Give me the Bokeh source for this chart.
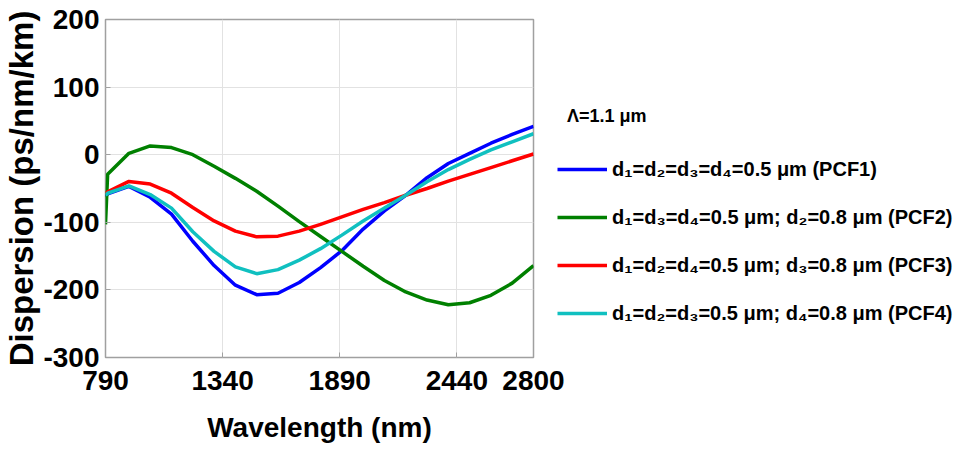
from bokeh.plotting import figure
from bokeh.models import Range1d, FixedTicker, Legend, LegendItem
from bokeh.embed import file_html
from bokeh.resources import INLINE

# ---- data ----
wavelength_nm = [790, 800, 900, 1000, 1100, 1200, 1300, 1400, 1500, 1600, 1700,
                 1800, 1900, 2000, 2100, 2200, 2300, 2400, 2500, 2600, 2700, 2800]
pcf1 = [-62, -58, -47, -63, -88, -128, -164, -193, -207, -205, -189,
        -167, -142, -110, -83, -60, -34, -13, 2, 17, 30, 42]
pcf2 = [-103, -29, 2, 13, 10.5, 0, -17, -35, -54, -76, -99,
        -121, -143, -165, -186, -203, -215, -222, -219, -208, -190, -164]
pcf3 = [-57, -55, -39.5, -43.5, -57, -78, -98, -113, -121.5, -120.5, -113,
        -103, -92, -81, -71, -60, -50, -39, -29, -19, -9, 1]
pcf4 = [-60, -57, -46, -59, -79, -114, -143, -166, -176, -170, -156,
        -139, -119, -98, -79, -60, -40, -22, -7, 7, 19, 31]

series_values = [pcf1, pcf2, pcf3, pcf4]
series_labels = [
    "d\u2081=d\u2082=d\u2083=d\u2084=0.5 \u03bcm (PCF1)",
    "d\u2081=d\u2083=d\u2084=0.5 \u03bcm; d\u2082=0.8 \u03bcm (PCF2)",
    "d\u2081=d\u2082=d\u2084=0.5 \u03bcm; d\u2083=0.8 \u03bcm (PCF3)",
    "d\u2081=d\u2082=d\u2083=0.5 \u03bcm; d\u2084=0.8 \u03bcm (PCF4)",
]
series_colors = ["#0000ff", "#008000", "#ff0000", "#10c0c0"]
legend_title = "\u00a0\u00a0\u039b=1.1 \u03bcm"

x_ticks = [790, 1340, 1890, 2440, 2800]
y_ticks = [-300, -200, -100, 0, 100, 200]
y_tick_labels = ["-300", "-200", "-100", "0", "100", "200"]
x_label = "Wavelength (nm)"
y_label = "Dispersion (ps/nm/km)"

SANS = "Liberation Sans"

p = figure(frame_width=428, frame_height=338, output_backend="svg",
           toolbar_location=None,
           x_range=Range1d(790, 2800), y_range=Range1d(-300, 200),
           min_border_left=105, min_border_right=0,
           min_border_top=19, min_border_bottom=95)

p.background_fill_color = "white"
p.border_fill_color = "white"
p.outline_line_color = "#a0a0a0"
p.outline_line_width = 1.5

p.xaxis.ticker = FixedTicker(ticks=x_ticks)
p.yaxis.ticker = FixedTicker(ticks=y_ticks)
p.yaxis.major_label_overrides = {t: s for t, s in zip(y_ticks, y_tick_labels)}
p.xaxis.major_label_overrides = {t: str(t) for t in x_ticks}
p.grid.grid_line_color = "#e2e2e2"
p.grid.grid_line_width = 1

for ax in (p.xaxis[0], p.yaxis[0]):
    ax.axis_line_color = None
    ax.major_tick_in = 5
    ax.major_tick_out = 0
    ax.major_tick_line_color = "#a0a0a0"
    ax.minor_tick_line_color = None
    ax.major_label_text_font = SANS
    ax.major_label_text_font_style = "bold"
    ax.major_label_text_font_size = "28px"
    ax.major_label_text_color = "black"
    ax.axis_label_text_font = SANS
    ax.axis_label_text_font_style = "bold"
    ax.axis_label_text_color = "black"

p.xaxis.major_label_standoff = 13
p.yaxis.major_label_standoff = 6
p.xaxis.axis_label = x_label
p.xaxis.axis_label_text_font_size = "28px"
p.xaxis.axis_label_standoff = 19
p.yaxis.axis_label = y_label
p.yaxis.axis_label_text_font_size = "33px"
p.yaxis.axis_label_standoff = 0

items = []
for vals, lab, col in zip(series_values, series_labels, series_colors):
    r = p.line(wavelength_nm, vals, line_color=col, line_width=3.5)
    items.append(LegendItem(label=lab, renderers=[r]))

legend = Legend(items=items, location=(24, 29), padding=0, margin=0,
                spacing=18, glyph_width=50, glyph_height=30, label_height=30,
                label_standoff=5, label_text_font=SANS,
                label_text_font_style="bold", label_text_font_size="20px",
                label_text_color="black",
                title=legend_title, title_text_font=SANS,
                title_text_font_style="bold", title_text_font_size="18px",
                title_text_color="black", title_standoff=27,
                border_line_color=None, background_fill_alpha=0)
p.add_layout(legend, "right")

open("out.html", "w").write(file_html(p, INLINE))
